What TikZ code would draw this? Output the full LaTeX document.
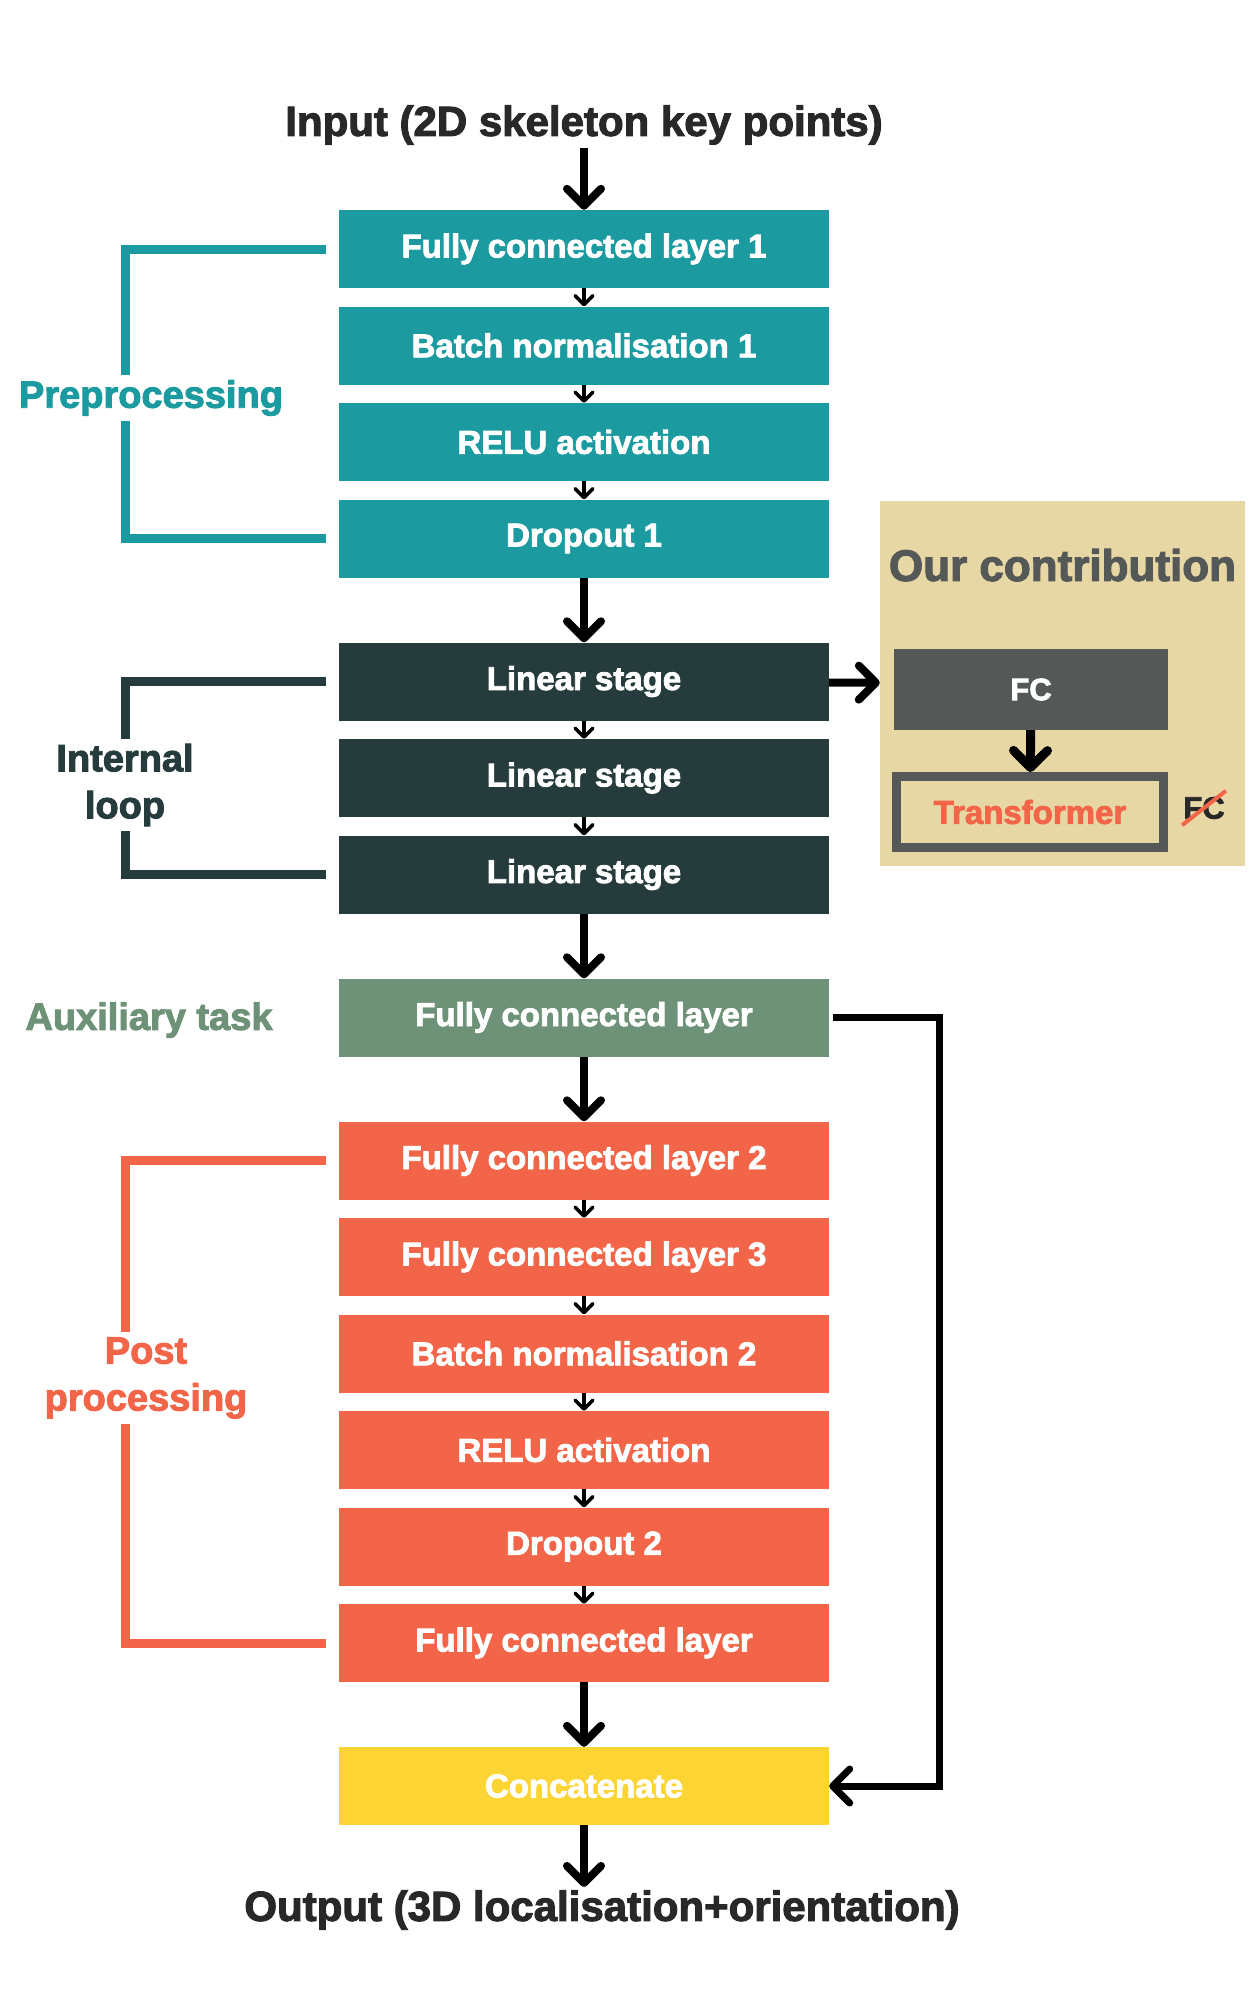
\documentclass[tikz,border=0pt]{standalone}
\usepackage{fontspec}
\setmainfont{Liberation Sans}[BoldFeatures={FakeBold=2.5}]
\usetikzlibrary{positioning,arrows.meta}
\definecolor{tealbox}{HTML}{1B9AA0}
\definecolor{darkbox}{HTML}{253B3C}
\definecolor{auxgreen}{HTML}{6D9277}
\definecolor{postorange}{HTML}{F36548}
\definecolor{catyellow}{HTML}{FCD535}
\definecolor{beige}{HTML}{E7D7A4}
\definecolor{fcgray}{HTML}{545857}
\definecolor{inktext}{HTML}{282828}
\tikzset {
layer/.style={shape=rectangle,minimum width=490pt,minimum height=78pt,inner sep=0pt,text=white,font=\fontsize{33}{38}\selectfont\bfseries},
prebox/.style={layer,fill=tealbox},
loopbox/.style={layer,fill=darkbox},
auxbox/.style={layer,fill=auxgreen},
postbox/.style={layer,fill=postorange},
catbox/.style={layer,fill=catyellow},
inout/.style={text=inktext,font=\fontsize{42}{48}\selectfont\bfseries},
grouplabel/.style={align=center,inner sep=5pt,font=\fontsize{38}{47}\selectfont\bfseries},
brace/.style={line width=9pt},
bigarrow/.style={line width=8pt,-{Straight Barb[length=17pt,width=34pt,round]}},
smallarrow/.style={line width=3.5pt,-{Straight Barb[length=9pt,width=18pt,round]}}
}
\begin{document}
\begin{tikzpicture}
[x=1pt,y=-1pt,node distance=96.5pt]
\fill[white] (0,0) rectangle (1250,2000);
\useasboundingbox (0,0) rectangle (1250,2000);
\node[inout] (input) at (584,125) {Input (2D skeleton key points)};
\node[prebox] (fc1) at (584,249) {Fully connected layer 1};
\node[prebox] (bn1) [below of=fc1] {Batch normalisation 1};
\node[prebox] (relu1) [below of=bn1] {RELU activation};
\node[prebox] (drop1) [below of=relu1] {Dropout 1};
\node[loopbox] (lin1) [below of=drop1,yshift=-46.5pt] {Linear stage};
\node[loopbox] (lin2) [below of=lin1] {Linear stage};
\node[loopbox] (lin3) [below of=lin2] {Linear stage};
\node[auxbox] (aux) [below of=lin3,yshift=-46.5pt] {Fully connected layer};
\node[postbox] (fc2) [below of=aux,yshift=-46.5pt] {Fully connected layer 2};
\node[postbox] (fc3) [below of=fc2] {Fully connected layer 3};
\node[postbox] (bn2) [below of=fc3] {Batch normalisation 2};
\node[postbox] (relu2) [below of=bn2] {RELU activation};
\node[postbox] (drop2) [below of=relu2] {Dropout 2};
\node[postbox] (fc4) [below of=drop2] {Fully connected layer};
\node[catbox] (concat) [below of=fc4,yshift=-46.5pt] {Concatenate};
\node[inout] (output) at (602,1910) {Output (3D localisation+orientation)};

% group names on the left
\coordinate (rail) at (125,0);
\node[grouplabel,text=tealbox] (prename) at (151,398) {Preprocessing};
\node[grouplabel,text=darkbox] (loopname) at (125,785) {Internal\\loop};
\node[grouplabel,text=auxgreen] (auxname) at (149,1020) {Auxiliary task};
\node[grouplabel,text=postorange] (postname) at (146,1378) {Post\\processing};

\draw[brace,draw=tealbox] ([xshift=-13pt]fc1.west) -| (rail |- prename.north);
\draw[brace,draw=tealbox] (rail |- prename.south) |- ([xshift=-13pt]drop1.west);
\draw[brace,draw=darkbox] ([xshift=-13pt]lin1.west) -| (rail |- loopname.north);
\draw[brace,draw=darkbox] (rail |- loopname.south) |- ([xshift=-13pt]lin3.west);
\draw[brace,draw=postorange] ([xshift=-13pt]fc2.west) -| (rail |- postname.north);
\draw[brace,draw=postorange] (rail |- postname.south) |- ([xshift=-13pt]fc4.west);

% our contribution
\node[fill=beige,minimum width=365pt,minimum height=365pt] (ours) at (1062.5,683.5) {};
\node[text=fcgray,inner sep=0pt,font=\fontsize{44}{50}\selectfont\bfseries] (ourtitle) [below=48pt of ours.north] {Our contribution};
\node[fill=fcgray,text=white,minimum width=274pt,minimum height=81pt,font=\fontsize{31}{36}\selectfont\bfseries] (ourfc) at (1031,689.5) {FC};
\node[draw=fcgray,line width=9pt,minimum width=267pt,minimum height=71pt,text=postorange,font=\fontsize{33}{38}\selectfont\bfseries] (trafo) at (1030,812) {Transformer};
\node[text=inktext,inner xsep=1pt,inner ysep=6pt,font=\fontsize{31}{36}\selectfont\bfseries] (oldfc) at (1204,808) {FC};
\draw[postorange,line width=4pt] (oldfc.south west) -- (oldfc.north east);

% arrows
\draw[bigarrow] (input) -- (fc1);
\draw[smallarrow] (fc1) -- (bn1);
\draw[smallarrow] (bn1) -- (relu1);
\draw[smallarrow] (relu1) -- (drop1);
\draw[bigarrow] (drop1) -- (lin1);
\draw[smallarrow] (lin1) -- (lin2);
\draw[smallarrow] (lin2) -- (lin3);
\draw[bigarrow] (lin3) -- (aux);
\draw[bigarrow] (aux) -- (fc2);
\draw[smallarrow] (fc2) -- (fc3);
\draw[smallarrow] (fc3) -- (bn2);
\draw[smallarrow] (bn2) -- (relu2);
\draw[smallarrow] (relu2) -- (drop2);
\draw[smallarrow] (drop2) -- (fc4);
\draw[bigarrow] (fc4) -- (concat);
\draw[bigarrow] (concat.south) -- (concat.south |- output.north);
\draw[bigarrow] (lin1) -- (ours);
\draw[bigarrow,line width=9pt] (ourfc) -- (trafo);
\coordinate (skip) at (939,1400);
\draw[bigarrow,line width=7pt] ([xshift=4pt]aux.east) -| (skip) |- (concat.east);
\end{tikzpicture}
\end{document}
